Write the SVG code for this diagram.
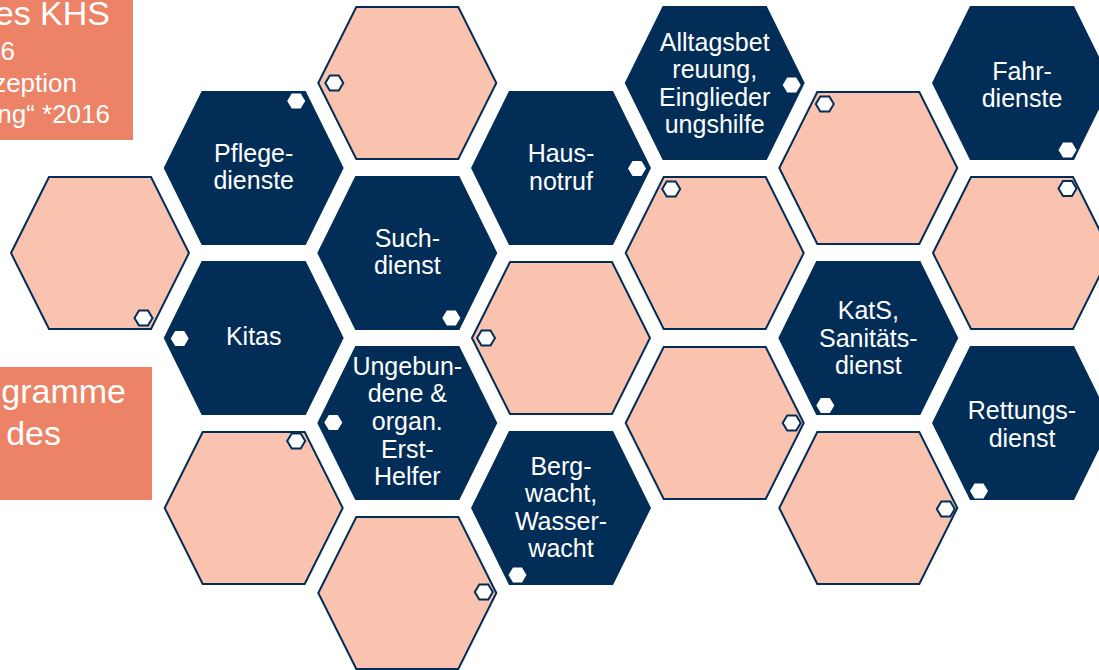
<svg xmlns="http://www.w3.org/2000/svg" xmlns:xlink="http://www.w3.org/1999/xlink" width="1099" height="670" viewBox="0 0 1099 670">
<style>
  .navy { fill: #022D56; }
  .pink { fill: #F9C3B0; stroke: #022D56; stroke-width: 2; stroke-linejoin: miter; }
  .mkn { fill: #FFFFFF; }
  .mkp { fill: #FFFFFF; stroke: #022D56; stroke-width: 2; }
  .box { fill: #EC8366; }
  .t { font-family: "Liberation Sans", Arial, sans-serif; fill: #FFFFFF; }
  .ht { font-size: 25px; text-anchor: middle; }
  .bt { font-size: 34px; text-anchor: end; }
  .st { font-size: 26px; text-anchor: end; }
</style>
<defs>
  <polygon id="hn" points="-90,0 -52,-77 52,-77 90,0 52,77 -52,77"/>
  <polygon id="hp" points="-89,0 -51,-76 51,-76 89,0 51,76 -51,76"/>
  <polygon id="mk" points="-9,0 -4.5,-7.5 4.5,-7.5 9,0 4.5,7.5 -4.5,7.5"/>
</defs>
<rect width="1099" height="670" fill="#FFFFFF"/>

<g id="box-khs">
  <rect class="box" x="-1" y="-1" width="134" height="141"/>
  <text class="t bt" x="110" y="25">es KHS</text>
  <text class="t st" x="15" y="60">6</text>
  <text class="t st" x="77" y="92">zeption</text>
  <text class="t st" x="110" y="123">ng“ *2016</text>
</g>
<g id="box-programme">
  <rect class="box" x="-1" y="367" width="153" height="133"/>
  <text class="t bt" x="126" y="403">gramme</text>
  <text class="t bt" x="61" y="445">des</text>
</g>

<g id="hex-pink-top" transform="translate(407.3,83)">
  <use xlink:href="#hp" class="pink"/>
  <use xlink:href="#mk" class="mkp" x="-73" y="0"/>
</g>
<g id="hex-pink-left" transform="translate(100,253)">
  <use xlink:href="#hp" class="pink"/>
  <use xlink:href="#mk" class="mkp" x="43.5" y="65"/>
</g>
<g id="hex-pink-bottom-left" transform="translate(253.7,508)">
  <use xlink:href="#hp" class="pink"/>
  <use xlink:href="#mk" class="mkp" x="42.5" y="-67"/>
</g>
<g id="hex-pink-bottom" transform="translate(407.3,593)">
  <use xlink:href="#hp" class="pink"/>
  <use xlink:href="#mk" class="mkp" x="76.5" y="-1"/>
</g>
<g id="hex-pink-c3" transform="translate(561,338)">
  <use xlink:href="#hp" class="pink"/>
  <use xlink:href="#mk" class="mkp" x="-75" y="0"/>
</g>
<g id="hex-pink-c4a" transform="translate(714.7,253)">
  <use xlink:href="#hp" class="pink"/>
  <use xlink:href="#mk" class="mkp" x="-43.5" y="-64"/>
</g>
<g id="hex-pink-c4b" transform="translate(714.7,423)">
  <use xlink:href="#hp" class="pink"/>
  <use xlink:href="#mk" class="mkp" x="77" y="0"/>
</g>
<g id="hex-pink-c5a" transform="translate(868.3,168)">
  <use xlink:href="#hp" class="pink"/>
  <use xlink:href="#mk" class="mkp" x="-43.5" y="-64"/>
</g>
<g id="hex-pink-c5b" transform="translate(868.3,508)">
  <use xlink:href="#hp" class="pink"/>
  <use xlink:href="#mk" class="mkp" x="77.5" y="1"/>
</g>
<g id="hex-pink-c6" transform="translate(1022,253)">
  <use xlink:href="#hp" class="pink"/>
  <use xlink:href="#mk" class="mkp" x="45.5" y="-64.5"/>
</g>

<g id="hex-pflegedienste" transform="translate(253.7,168)">
  <use xlink:href="#hn" class="navy"/>
  <use xlink:href="#mk" class="mkn" x="42.5" y="-67"/>
  <text class="t ht" x="0" y="-6">Pflege-</text>
  <text class="t ht" x="0" y="21">dienste</text>
</g>
<g id="hex-kitas" transform="translate(253.7,338)">
  <use xlink:href="#hn" class="navy"/>
  <use xlink:href="#mk" class="mkn" x="-74" y="0.5"/>
  <text class="t ht" x="0" y="7">Kitas</text>
</g>
<g id="hex-suchdienst" transform="translate(407.3,253)">
  <use xlink:href="#hn" class="navy"/>
  <use xlink:href="#mk" class="mkn" x="44" y="65"/>
  <text class="t ht" x="0" y="-6">Such-</text>
  <text class="t ht" x="0" y="21">dienst</text>
</g>
<g id="hex-ersthelfer" transform="translate(407.3,423)">
  <use xlink:href="#hn" class="navy"/>
  <use xlink:href="#mk" class="mkn" x="-74" y="-0.5"/>
  <text class="t ht" x="0" y="-48">Ungebun-</text>
  <text class="t ht" x="0" y="-21">dene &amp;</text>
  <text class="t ht" x="0" y="7">organ.</text>
  <text class="t ht" x="0" y="35">Erst-</text>
  <text class="t ht" x="0" y="62">Helfer</text>
</g>
<g id="hex-hausnotruf" transform="translate(561,168)">
  <use xlink:href="#hn" class="navy"/>
  <use xlink:href="#mk" class="mkn" x="76" y="0.5"/>
  <text class="t ht" x="0" y="-6">Haus-</text>
  <text class="t ht" x="0" y="22">notruf</text>
</g>
<g id="hex-bergwacht" transform="translate(561,508)">
  <use xlink:href="#hn" class="navy"/>
  <use xlink:href="#mk" class="mkn" x="-43.5" y="67"/>
  <text class="t ht" x="0" y="-33">Berg-</text>
  <text class="t ht" x="0" y="-6">wacht,</text>
  <text class="t ht" x="0" y="22">Wasser-</text>
  <text class="t ht" x="0" y="49">wacht</text>
</g>
<g id="hex-alltagsbetreuung" transform="translate(714.7,83)">
  <use xlink:href="#hn" class="navy"/>
  <use xlink:href="#mk" class="mkn" x="77" y="2"/>
  <text class="t ht" x="0" y="-32">Alltagsbet</text>
  <text class="t ht" x="0" y="-5">reuung,</text>
  <text class="t ht" x="0" y="23">Einglieder</text>
  <text class="t ht" x="0" y="50">ungshilfe</text>
</g>
<g id="hex-kats" transform="translate(868.3,338)">
  <use xlink:href="#hn" class="navy"/>
  <use xlink:href="#mk" class="mkn" x="-43" y="67.5"/>
  <text class="t ht" x="0" y="-19">KatS,</text>
  <text class="t ht" x="0" y="9">Sanitäts-</text>
  <text class="t ht" x="0" y="36">dienst</text>
</g>
<g id="hex-fahrdienste" transform="translate(1022,83)">
  <use xlink:href="#hn" class="navy"/>
  <use xlink:href="#mk" class="mkn" x="45.5" y="67"/>
  <text class="t ht" x="0" y="-3">Fahr-</text>
  <text class="t ht" x="0" y="24">dienste</text>
</g>
<g id="hex-rettungsdienst" transform="translate(1022,423)">
  <use xlink:href="#hn" class="navy"/>
  <use xlink:href="#mk" class="mkn" x="-43" y="68"/>
  <text class="t ht" x="0" y="-4">Rettungs-</text>
  <text class="t ht" x="0" y="24">dienst</text>
</g>
</svg>
